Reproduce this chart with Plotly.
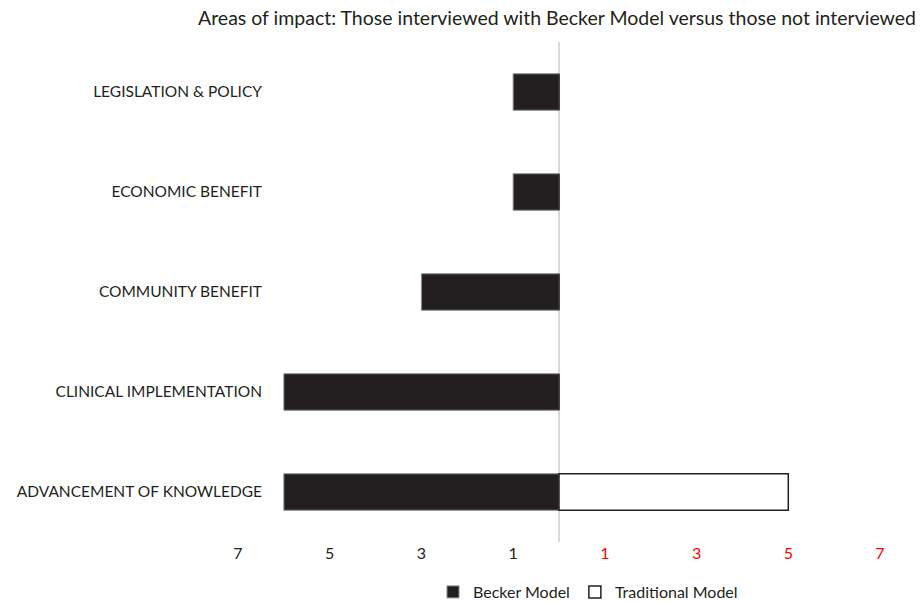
import plotly.graph_objects as go

categories = ["ADVANCEMENT OF KNOWLEDGE", "CLINICAL IMPLEMENTATION", "COMMUNITY BENEFIT",
              "ECONOMIC BENEFIT", "LEGISLATION & POLICY"]
becker = [6, 6, 3, 1, 1]
traditional = [5, 0, 0, 0, 0]
tick_vals = [-7, -5, -3, -1, 1, 3, 5, 7]
tick_text = ["7", "5", "3", "1",
             "<span style='color:#ff0000'>1</span>", "<span style='color:#ff0000'>3</span>",
             "<span style='color:#ff0000'>5</span>", "<span style='color:#ff0000'>7</span>"]

FONT = "Lato"

fig = go.Figure()
fig.add_trace(go.Bar(
    y=categories, x=[-v for v in becker], orientation="h", name="Becker Model",
    marker=dict(color="#231f20", line=dict(color="#8c8c8c", width=1)), width=0.365,
))
fig.add_trace(go.Bar(
    y=categories, x=traditional, orientation="h", name="Traditional Model",
    marker=dict(color="#ffffff", line=dict(color="#231f20", width=1.5)), width=0.365,
))

fig.update_layout(
    width=924, height=603,
    margin=dict(l=238, r=44, t=42, b=61),
    paper_bgcolor="white", plot_bgcolor="white",
    barmode="relative",
    font=dict(family=FONT, size=15.5, color="#231f20"),
    title=dict(text="Areas of impact: Those interviewed with Becker Model versus those not interviewed",
               x=557 / 924, xanchor="center", xref="container",
               y=1 - 18 / 603, yanchor="middle", yref="container",
               font=dict(family=FONT, size=19.5, color="#231f20")),
    xaxis=dict(range=[-7, 7], tickmode="array", tickvals=tick_vals, ticktext=tick_text,
               showgrid=False, zeroline=True, zerolinecolor="#d9d9d9", zerolinewidth=1.5,
               showline=False, ticks="", automargin=False,
               tickfont=dict(size=16, color="#231f20")),
    yaxis=dict(categoryorder="array", categoryarray=categories, range=[-0.5, 4.5],
               showgrid=False, zeroline=False, showline=False, ticks="", automargin=False,
               ticklabelstandoff=-25, tickfont=dict(size=15.5, color="#231f20")),
    legend=dict(orientation="h", xref="container", yref="container",
                x=588 / 924, xanchor="center", y=11 / 603, yanchor="middle",
                font=dict(size=16, color="#231f20"), traceorder="normal",
                itemwidth=30, tracegroupgap=0),
    showlegend=True,
)

fig.write_html("out.html", config={"displayModeBar": False},
               post_script="document.body.style.margin='0';")
